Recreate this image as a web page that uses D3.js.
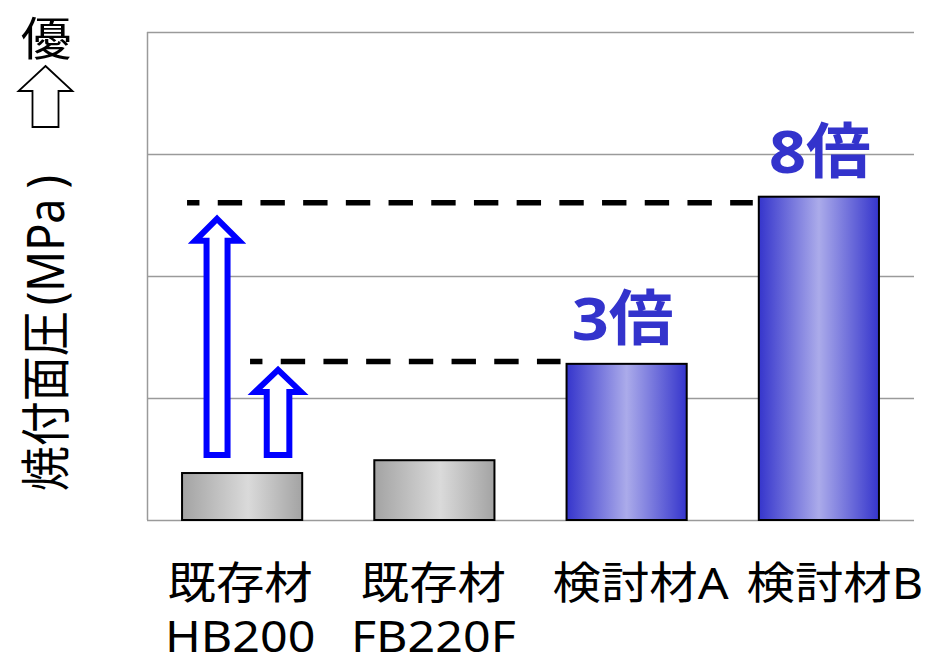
<!DOCTYPE html>
<html>
<head>
<meta charset="utf-8">
<script src="https://cdn.jsdelivr.net/npm/d3@7"></script>
<style>
  body { margin: 0; background: #fff; }
  text { font-family: "Noto Sans", "Noto Sans CJK JP", sans-serif; }
</style>
</head>
<body>
<svg id="chart" width="925" height="657"></svg>
<script>

    // data (no tick labels on the original, values in grid units of 10)
    var categories = ["既存材 HB200", "既存材 FB220F", "検討材A", "検討材B"];
    var labelTop = ["既存材", "既存材", "検討材A", "検討材B"];
    var labelBottom = ["HB200", "FB220F", "", ""];
    var pressure = [3.85, 4.9, 12.8, 26.5];
    var barKind = ["old", "old", "new", "new"];
    var ratioText = ["", "", "3倍", "8倍"];
    var yTicks = [0, 10, 20, 30, 40];
    var refLevels = [13.0, 26.0];
    var refEnds = ["検討材A", "検討材B"];

    var width = 925, height = 657;
    var margin = { top: 32, right: 11, bottom: 137, left: 147 };

    var svg = d3.select("#chart");

    var x = d3.scaleBand()
      .domain(categories)
      .range([margin.left - 1, width - margin.right + 1])
      .paddingInner(0.375)
      .paddingOuter(0.1875);

    var y = d3.scaleLinear()
      .domain([0, 40])
      .range([height - margin.bottom, margin.top]);

    //=========================================================================
    // gradients
    //=========================================================================
    var defs = svg.append("defs");
    function addGradient(id, edge, light, at) {
      var g = defs.append("linearGradient").attr("id", id)
        .attr("x1", "0%").attr("x2", "100%").attr("y1", "0%").attr("y2", "0%");
      g.append("stop").attr("offset", "0%").attr("stop-color", edge);
      g.append("stop").attr("offset", at).attr("stop-color", light);
      g.append("stop").attr("offset", "100%").attr("stop-color", edge);
    }
    addGradient("grad-old", "#a3a3a3", "#dadada", "55%");
    addGradient("grad-new", "#3535cc", "#ababea", "50%");

    //=========================================================================
    // grid
    //=========================================================================
    var gGrid = svg.append("g")
      .attr("transform", `translate(${margin.left}, 0)`)
      .call(d3.axisLeft(y)
        .tickValues(yTicks)
        .tickSize(-(width - margin.left - margin.right))
        .tickFormat(""));
    gGrid.selectAll(".tick line").attr("stroke", "#9a9a9a").attr("stroke-width", 1.5);
    gGrid.select(".domain").attr("stroke", "#9a9a9a").attr("stroke-width", 1.5)
      .attr("d", `M0.5,${y(40)}V${y(0)}`);

    //=========================================================================
    // bars
    //=========================================================================
    svg.append("g")
      .selectAll("rect")
      .data(pressure)
      .enter()
      .append("rect")
      .attr("x", function(d, i) { return x(categories[i]); })
      .attr("y", function(d) { return y(d); })
      .attr("width", x.bandwidth())
      .attr("height", function(d) { return y(0) - y(d); })
      .attr("fill", function(d, i) { return barKind[i] == "old" ? "url(#grad-old)" : "url(#grad-new)"; })
      .attr("stroke", "#000")
      .attr("stroke-width", 2);

    //=========================================================================
    // dashed reference lines
    //=========================================================================
    var refStart = [68, 5];
    svg.append("g")
      .selectAll("line")
      .data(refLevels)
      .enter()
      .append("line")
      .attr("x1", function(d, i) { return x(categories[0]) + refStart[i]; })
      .attr("x2", function(d, i) { return x(refEnds[i]) - 6; })
      .attr("y1", function(d) { return y(d); })
      .attr("y2", function(d) { return y(d); })
      .attr("stroke", "#000")
      .attr("stroke-width", 5.5)
      .attr("stroke-dasharray", "24.4,18.3")
      .attr("stroke-dashoffset", 12);

    //=========================================================================
    // blue up arrows from HB200 to the dashed lines
    //=========================================================================
    var arrowDx = [96, 35];
    var arrowShaft = [11.3, 10.5];
    var arrowHead = [23, 22];
    var arrowTipGap = [8.5, 16];
    var baseY = y(pressure[0]) - 18;

    function upArrow(cx, tip, bottom, hw, hh, headH) {
      return `M${cx},${tip} L${cx + hh},${tip + headH} L${cx + hw},${tip + headH} L${cx + hw},${bottom}` +
             ` L${cx - hw},${bottom} L${cx - hw},${tip + headH} L${cx - hh},${tip + headH} Z`;
    }

    svg.append("g")
      .selectAll("path")
      .data(refLevels)
      .enter()
      .append("path")
      .attr("d", function(d, i) {
        var cx = x(categories[0]) + arrowDx[i];
        return upArrow(cx, y(d) + arrowTipGap[i], baseY, arrowShaft[i], arrowHead[i], 22);
      })
      .attr("fill", "#fff")
      .attr("stroke", "#0000ff")
      .attr("stroke-width", 6)
      .attr("stroke-miterlimit", 10);

    //=========================================================================
    // ratio labels
    //=========================================================================
    var ratioShift = [0, 0, -4, 1];
    svg.append("g")
      .selectAll("text")
      .data(pressure)
      .enter()
      .filter(function(d, i) { return ratioText[i] != ""; })
      .append("text")
      .attr("transform", function(d) {
        var i = pressure.indexOf(d);
        return `translate(${x(categories[i]) + x.bandwidth() / 2 + ratioShift[i]}, ${y(d) - 24}) scale(1.08,1)`;
      })
      .attr("text-anchor", "middle")
      .attr("font-size", 60)
      .attr("font-weight", "bold")
      .attr("fill", "#3333cc")
      .text(function(d) { return ratioText[pressure.indexOf(d)]; });

    //=========================================================================
    // category labels
    //=========================================================================
    var labelShift = [-2, -1, 14, 16];
    var gLabels = svg.append("g")
      .selectAll("g")
      .data(categories)
      .enter()
      .append("g")
      .attr("transform", function(d, i) {
        return `translate(${x(d) + x.bandwidth() / 2 + labelShift[i]}, 0)`;
      });

    gLabels.append("text")
      .attr("transform", "translate(0, 599) scale(1.1,1)")
      .attr("text-anchor", "middle")
      .attr("font-size", 44)
      .attr("fill", "#000")
      .text(function(d, i) { return labelTop[i]; });

    gLabels.append("text")
      .attr("transform", "translate(0, 652) scale(1.1,1)")
      .attr("text-anchor", "middle")
      .attr("font-size", 44)
      .attr("fill", "#000")
      .text(function(d, i) { return labelBottom[i]; });

    //=========================================================================
    // y title + "better" arrow
    //=========================================================================
    var yTitle = svg.append("text")
      .attr("transform", "translate(64, 333) scale(1.12,1) rotate(-90)")
      .attr("text-anchor", "middle")
      .attr("font-size", 45)
      .attr("fill", "#000");
    yTitle.append("tspan").text("焼付面圧");
    yTitle.append("tspan").attr("dx", 6).text("(");
    yTitle.append("tspan").text("MPa");
    yTitle.append("tspan").attr("dx", 10).text(")");

    svg.append("text")
      .attr("transform", "translate(46, 55) scale(1.1,1)")
      .attr("text-anchor", "middle")
      .attr("font-size", 46)
      .attr("fill", "#000")
      .text("優");

    svg.append("path")
      .attr("d", upArrow(45.5, 66, 127, 13, 27, 25))
      .attr("fill", "#fff")
      .attr("stroke", "#000")
      .attr("stroke-width", 1.8);

</script>
</body>
</html>
